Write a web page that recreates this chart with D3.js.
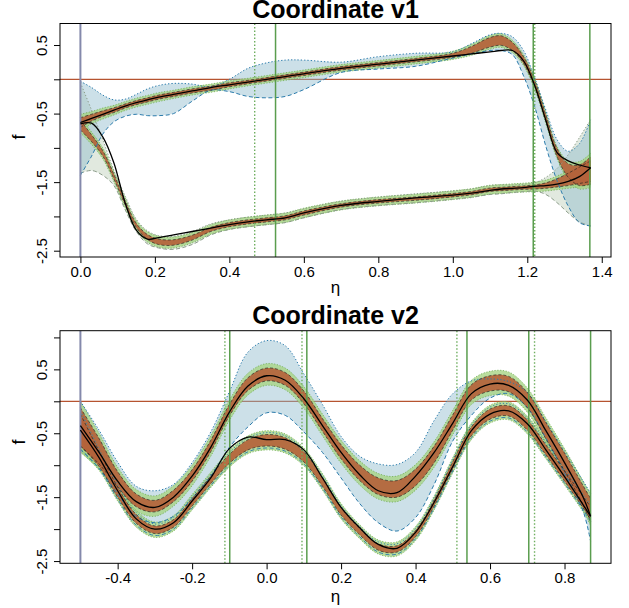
<!DOCTYPE html>
<html><head><meta charset="utf-8">
<script src="https://cdn.jsdelivr.net/npm/d3@7"></script>
<style>
body{margin:0;background:#fff}
svg{display:block}
text{font-family:"Liberation Sans",Arial,Helvetica,sans-serif;fill:#000}
</style>
</head><body>
<svg id="c" width="629" height="608"></svg>
<script>
// ---------------- Panel 1 : Coordinate v1 ----------------
const eta1 = [0, 0.03, 0.06, 0.09, 0.12, 0.15, 0.18, 0.21, 0.25, 0.3, 0.35, 0.4, 0.45, 0.5, 0.55, 0.6, 0.7, 0.8, 0.9, 1.0, 1.05, 1.1, 1.13, 1.16, 1.19, 1.22, 1.25, 1.28, 1.31, 1.34, 1.37];
const v1UpperMean = [-0.63, -0.56, -0.50, -0.45, -0.39, -0.34, -0.30, -0.26, -0.22, -0.17, -0.13, -0.08, -0.04, 0.00, 0.04, 0.08, 0.16, 0.22, 0.28, 0.35, 0.43, 0.54, 0.565, 0.48, 0.28, -0.07, -0.57, -1.07, -1.33, -1.40, -1.33];
const v1UpperOrangeHw = [0.07, 0.05, 0.04, 0.035, 0.03, 0.03, 0.03, 0.03, 0.03, 0.03, 0.03, 0.03, 0.025, 0.025, 0.025, 0.025, 0.025, 0.025, 0.025, 0.03, 0.05, 0.07, 0.07, 0.06, 0.05, 0.05, 0.05, 0.06, 0.10, 0.15, 0.20];
const v1UpperGreenHw = [0.12, 0.09, 0.08, 0.07, 0.065, 0.065, 0.065, 0.065, 0.06, 0.06, 0.06, 0.06, 0.055, 0.055, 0.055, 0.055, 0.055, 0.055, 0.055, 0.06, 0.08, 0.10, 0.10, 0.09, 0.08, 0.08, 0.08, 0.09, 0.14, 0.20, 0.25];
const v1UpperTruth = [-0.63, -0.57, -0.51, -0.45, -0.39, -0.34, -0.30, -0.26, -0.22, -0.17, -0.12, -0.08, -0.04, 0.00, 0.04, 0.08, 0.16, 0.22, 0.28, 0.34, 0.37, 0.40, 0.42, 0.42, 0.27, -0.09, -0.60, -1.07, -1.19, -1.25, -1.29];
const v1UpperWideUp = [-0.03, -0.12, -0.23, -0.30, -0.29, -0.22, -0.14, -0.09, -0.06, -0.07, -0.11, 0.00, 0.16, 0.24, 0.28, 0.28, 0.25, 0.33, 0.38, 0.40, 0.52, 0.65, 0.67, 0.62, 0.42, 0.02, -0.45, -0.88, -1.05, -0.94, -0.59];
const v1UpperWideLo = [-1.40, -1.12, -0.80, -0.62, -0.54, -0.51, -0.53, -0.53, -0.50, -0.32, -0.16, -0.18, -0.25, -0.27, -0.25, -0.15, 0.10, 0.15, 0.19, 0.31, 0.37, 0.42, 0.42, 0.36, 0.05, -0.40, -0.98, -1.48, -1.85, -2.09, -2.14];

const v1LowerMean = [-0.67, -0.86, -1.08, -1.42, -1.80, -2.13, -2.30, -2.37, -2.38, -2.31, -2.19, -2.12, -2.08, -2.05, -2.02, -1.95, -1.84, -1.78, -1.74, -1.69, -1.66, -1.61, -1.60, -1.59, -1.58, -1.57, -1.55, -1.51, -1.46, -1.40, -1.34];
const v1LowerOrangeHw = [0.07, 0.05, 0.04, 0.035, 0.03, 0.03, 0.035, 0.04, 0.04, 0.035, 0.03, 0.03, 0.03, 0.03, 0.03, 0.03, 0.025, 0.025, 0.025, 0.025, 0.025, 0.025, 0.025, 0.025, 0.025, 0.03, 0.04, 0.06, 0.09, 0.12, 0.15];
const v1LowerGreenHw = [0.11, 0.09, 0.08, 0.075, 0.07, 0.07, 0.075, 0.08, 0.08, 0.075, 0.07, 0.07, 0.07, 0.07, 0.07, 0.07, 0.065, 0.065, 0.065, 0.065, 0.065, 0.065, 0.065, 0.065, 0.065, 0.07, 0.08, 0.10, 0.13, 0.17, 0.20];
const v1LowerTruth = [-0.65, -0.64, -0.84, -1.22, -1.80, -2.20, -2.33, -2.31, -2.27, -2.22, -2.17, -2.12, -2.08, -2.05, -2.02, -1.95, -1.84, -1.78, -1.73, -1.69, -1.66, -1.62, -1.60, -1.59, -1.58, -1.56, -1.55, -1.53, -1.49, -1.42, -1.29];
const v1LowerWideUp = [-0.05, -0.45, -0.88, -1.33, -1.70, -2.04, -2.21, -2.28, -2.29, -2.22, -2.11, -2.05, -2.01, -1.98, -1.95, -1.89, -1.78, -1.72, -1.67, -1.63, -1.60, -1.55, -1.54, -1.54, -1.53, -1.51, -1.43, -1.30, -1.10, -0.85, -0.59];
const v1LowerWideLo = [-1.37, -1.33, -1.40, -1.55, -1.90, -2.22, -2.40, -2.46, -2.48, -2.41, -2.27, -2.19, -2.15, -2.12, -2.09, -2.02, -1.90, -1.84, -1.80, -1.75, -1.72, -1.68, -1.67, -1.65, -1.64, -1.63, -1.68, -1.80, -1.95, -2.08, -2.14];

const v1XTicks = [0, 0.2, 0.4, 0.6, 0.8, 1.0, 1.2, 1.4];
const v1YTicks = [0.5, 0, -0.5, -1, -1.5, -2, -2.5];
const v1YLabels = [0.5, -0.5, -1.5, -2.5];
const v1Purple = [0];
const v1GreenSolid = [0.524, 1.216, 1.368];
const v1GreenDotted = [0.468, 1.220];

// ---------------- Panel 2 : Coordinate v2 ----------------
const eta2 = [-0.5, -0.45, -0.4, -0.35, -0.3, -0.25, -0.2, -0.15, -0.1, -0.05, 0, 0.05, 0.1, 0.15, 0.2, 0.25, 0.3, 0.35, 0.4, 0.45, 0.5, 0.55, 0.6, 0.65, 0.7, 0.75, 0.8, 0.85, 0.87];
const v2UpperMean = [-0.40, -0.78, -1.22, -1.55, -1.64, -1.48, -1.16, -0.70, -0.14, 0.27, 0.42, 0.35, 0.06, -0.37, -0.79, -1.12, -1.33, -1.37, -1.19, -0.83, -0.33, 0.14, 0.28, 0.27, 0.02, -0.46, -0.95, -1.47, -1.70];
const v2UpperOrangeHw = [0.30, 0.20, 0.12, 0.10, 0.09, 0.09, 0.09, 0.09, 0.09, 0.10, 0.10, 0.10, 0.10, 0.10, 0.11, 0.12, 0.13, 0.13, 0.13, 0.13, 0.12, 0.12, 0.12, 0.12, 0.12, 0.13, 0.14, 0.15, 0.18];
const v2UpperGreenHw = [0.40, 0.28, 0.19, 0.17, 0.16, 0.16, 0.16, 0.16, 0.16, 0.17, 0.17, 0.17, 0.17, 0.17, 0.18, 0.19, 0.20, 0.20, 0.20, 0.20, 0.19, 0.19, 0.19, 0.19, 0.19, 0.20, 0.21, 0.22, 0.25];
const v2UpperTruth = [-0.38, -0.80, -1.25, -1.57, -1.66, -1.50, -1.17, -0.72, -0.17, 0.24, 0.40, 0.33, 0.04, -0.38, -0.80, -1.15, -1.40, -1.43, -1.17, -0.80, -0.34, 0.12, 0.27, 0.25, 0.02, -0.46, -0.96, -1.50, -1.80];
const v2UpperWideUp = [0.0, -0.45, -0.95, -1.33, -1.40, -1.30, -0.96, -0.48, 0.15, 0.77, 0.95, 0.87, 0.43, -0.05, -0.55, -0.86, -0.98, -0.99, -0.80, -0.30, 0.12, 0.32, 0.35, 0.31, 0.14, -0.32, -0.78, -1.25, -1.44];
const v2UpperWideLo = [-0.75, -1.05, -1.45, -1.80, -1.90, -1.80, -1.52, -1.17, -0.72, -0.40, -0.18, -0.22, -0.48, -0.80, -1.20, -1.60, -1.90, -2.03, -1.82, -1.30, -0.62, -0.22, 0.05, 0.12, -0.10, -0.58, -1.12, -1.72, -2.19];

const v2LowerMean = [-0.45, -0.90, -1.42, -1.84, -2.01, -1.91, -1.58, -1.23, -0.90, -0.68, -0.61, -0.66, -0.87, -1.26, -1.72, -2.04, -2.28, -2.31, -2.07, -1.59, -1.00, -0.47, -0.20, -0.15, -0.37, -0.76, -1.17, -1.58, -1.75];
const v2LowerOrangeHw = [0.25, 0.12, 0.08, 0.07, 0.06, 0.06, 0.06, 0.06, 0.07, 0.08, 0.09, 0.09, 0.08, 0.07, 0.06, 0.05, 0.05, 0.05, 0.05, 0.05, 0.06, 0.07, 0.08, 0.08, 0.08, 0.08, 0.08, 0.09, 0.10];
const v2LowerGreenHw = [0.33, 0.18, 0.14, 0.13, 0.12, 0.12, 0.12, 0.12, 0.13, 0.14, 0.15, 0.15, 0.14, 0.13, 0.12, 0.11, 0.11, 0.11, 0.11, 0.11, 0.12, 0.13, 0.14, 0.14, 0.14, 0.14, 0.14, 0.15, 0.16];
const v2LowerWideHw = [0.30, 0.15, 0.11, 0.10, 0.09, 0.09, 0.09, 0.09, 0.10, 0.11, 0.12, 0.12, 0.11, 0.10, 0.09, 0.08, 0.08, 0.08, 0.08, 0.08, 0.09, 0.10, 0.11, 0.11, 0.11, 0.11, 0.11, 0.12, 0.13];
const v2LowerTruth = [-0.45, -0.88, -1.40, -1.84, -2.00, -1.90, -1.56, -1.20, -0.74, -0.56, -0.60, -0.60, -0.76, -1.20, -1.66, -1.98, -2.24, -2.30, -2.05, -1.58, -1.02, -0.46, -0.20, -0.15, -0.35, -0.76, -1.18, -1.62, -1.80];

const v2XTicks = [-0.4, -0.2, 0, 0.2, 0.4, 0.6, 0.8];
const v2YTicks = [1, 0.5, 0, -0.5, -1, -1.5, -2, -2.5];
const v2YLabels = [0.5, -0.5, -1.5, -2.5];
const v2Purple = [-0.5];
const v2GreenSolid = [-0.099, 0.108, 0.538, 0.704, 0.870];
const v2GreenDotted = [-0.112, 0.095, 0.511, 0.7195];

// ---------------- drawing ----------------
const svg = d3.select("#c");
const defs = svg.append("defs");
const plus = (a, b, s) => a.map((v, i) => v + s * b[i]);

function drawPanel(p) {
  const x = d3.scaleLinear().domain(p.xDomain).range([p.left, p.right]);
  const y = d3.scaleLinear().domain(p.yDomain).range([p.bottom, p.top]);
  defs.append("clipPath").attr("id", "clip" + p.id)
    .append("rect").attr("x", p.left).attr("y", p.top)
    .attr("width", p.right - p.left).attr("height", p.bottom - p.top);
  const g = svg.append("g");
  const plot = g.append("g").attr("clip-path", `url(#clip${p.id})`);
  const curve = d3.curveCatmullRom.alpha(0.5);
  const area = (lo, hi) => d3.area().x((d, i) => x(p.eta[i])).y0((d, i) => y(lo[i])).y1((d, i) => y(hi[i])).curve(curve)(p.eta);
  const line = (vals) => d3.line().x((d, i) => x(p.eta[i])).y((d, i) => y(vals[i])).curve(curve)(p.eta);

  // zero reference line
  plot.append("line").attr("x1", p.left).attr("x2", p.right)
    .attr("y1", y(0)).attr("y2", y(0)).attr("stroke", "#b65330").attr("stroke-width", 1.2);

  // wide bands
  p.branches.forEach(b => {
    plot.append("path").attr("d", area(b.wideLo, b.wideUp))
      .attr("fill", b.wideFill).attr("fill-opacity", b.wideOpacity).attr("stroke", "none");
  });
  // green bands
  p.branches.forEach(b => {
    plot.append("path").attr("d", area(plus(b.mean, b.green, -1), plus(b.mean, b.green, 1)))
      .attr("fill", "#a8d584").attr("fill-opacity", 0.8);
    [-1, 1].forEach(s => plot.append("path").attr("d", line(plus(b.mean, b.green, s)))
      .attr("fill", "none").attr("stroke", "#6fae55").attr("stroke-width", 0.9)
      .attr("stroke-dasharray", "1.2,1.6").attr("opacity", 0.9));
  });
  // orange bands
  p.branches.forEach(b => {
    plot.append("path").attr("d", area(plus(b.mean, b.orange, -1), plus(b.mean, b.orange, 1)))
      .attr("fill", "#b4633b").attr("fill-opacity", 0.92);
  });
  // wide band borders
  p.branches.forEach(b => {
    if (!b.wideBorder) return;
    plot.append("path").attr("d", line(b.wideUp)).attr("fill", "none")
      .attr("stroke", b.wideStroke).attr("stroke-width", 1).attr("stroke-dasharray", "1.3,2");
    plot.append("path").attr("d", line(b.wideLo)).attr("fill", "none")
      .attr("stroke", b.wideStroke).attr("stroke-width", 1).attr("stroke-dasharray", "4,2.5");
  });
  // orange borders
  p.branches.forEach(b => {
    [-1, 1].forEach(s => plot.append("path").attr("d", line(plus(b.mean, b.orange, s)))
      .attr("fill", "none").attr("stroke", "#222").attr("stroke-width", 0.8)
      .attr("stroke-dasharray", "3,2").attr("opacity", 0.8));
  });
  // vertical lines
  p.purple.forEach(v => plot.append("line").attr("x1", x(v)).attr("x2", x(v))
    .attr("y1", p.top).attr("y2", p.bottom).attr("stroke", "#8489ab").attr("stroke-width", 2));
  p.greenDotted.forEach(v => plot.append("line").attr("x1", x(v)).attr("x2", x(v))
    .attr("y1", p.top).attr("y2", p.bottom).attr("stroke", "#6fae5f").attr("stroke-width", 1.4)
    .attr("stroke-dasharray", "1.5,2"));
  p.greenSolid.forEach(v => plot.append("line").attr("x1", x(v)).attr("x2", x(v))
    .attr("y1", p.top).attr("y2", p.bottom).attr("stroke", "#5a9d4e").attr("stroke-width", 1.5));
  // truth
  p.branches.forEach(b => {
    plot.append("path").attr("d", line(b.truth)).attr("fill", "none")
      .attr("stroke", "#000").attr("stroke-width", 1.3);
  });

  // axes
  const xa = g.append("g").attr("transform", `translate(0,${p.bottom})`)
    .call(d3.axisBottom(x).tickValues(p.xTicks).tickSize(6).tickFormat(d => d.toFixed(1)));
  xa.select(".domain").remove();
  xa.selectAll("line").attr("stroke", "#000");
  xa.selectAll("text").attr("font-size", 15).attr("font-family", "Liberation Sans, Arial, sans-serif");

  const ya = g.append("g").attr("transform", `translate(${p.left},0)`)
    .call(d3.axisLeft(y).tickValues(p.yTicks).tickSize(6)
      .tickFormat(d => p.yLabels.includes(d) ? d.toFixed(1) : ""));
  ya.select(".domain").remove();
  ya.selectAll("line").attr("stroke", "#000");
  ya.selectAll("text").attr("font-size", 15).attr("font-family", "Liberation Sans, Arial, sans-serif")
    .attr("transform", "rotate(-90)").attr("text-anchor", "middle")
    .attr("x", 0).attr("y", -13).attr("dy", 0);

  // box
  g.append("rect").attr("x", p.left).attr("y", p.top).attr("width", p.right - p.left)
    .attr("height", p.bottom - p.top).attr("fill", "none").attr("stroke", "#000").attr("stroke-width", 1);

  // title and labels
  g.append("text").attr("x", (p.left + p.right) / 2).attr("y", p.titleY)
    .attr("text-anchor", "middle").attr("font-size", 25).attr("font-weight", "bold").text(p.title);
  g.append("text").attr("x", (p.left + p.right) / 2).attr("y", p.xlabY)
    .attr("text-anchor", "middle").attr("font-size", 17).text("η");
  g.append("text").attr("transform", `translate(25,${p.ylabY}) rotate(-90)`)
    .attr("text-anchor", "middle").attr("font-size", 18).text("f");
}

drawPanel({
  id: 1, title: "Coordinate v1", titleY: 18, xlabY: 293, ylabY: 137,
  left: 60, right: 611, top: 23.5, bottom: 257,
  xDomain: [-0.0548, 1.4248], yDomain: [-2.592, 0.814],
  eta: eta1, xTicks: v1XTicks, yTicks: v1YTicks, yLabels: v1YLabels,
  purple: v1Purple, greenSolid: v1GreenSolid, greenDotted: v1GreenDotted,
  branches: [
    { mean: v1LowerMean, orange: v1LowerOrangeHw, green: v1LowerGreenHw, truth: v1LowerTruth,
      wideUp: v1LowerWideUp, wideLo: v1LowerWideLo, wideFill: "#bccfb8", wideOpacity: 0.45,
      wideStroke: "#8c9c8a", wideBorder: true },
    { mean: v1UpperMean, orange: v1UpperOrangeHw, green: v1UpperGreenHw, truth: v1UpperTruth,
      wideUp: v1UpperWideUp, wideLo: v1UpperWideLo, wideFill: "#8dbacd", wideOpacity: 0.45,
      wideStroke: "#2b7bab", wideBorder: true }
  ]
});

drawPanel({
  id: 2, title: "Coordinate v2", titleY: 324, xlabY: 602, ylabY: 442,
  left: 60, right: 611, top: 330.7, bottom: 563.3,
  xDomain: [-0.5548, 0.9248], yDomain: [-2.535, 1.105],
  eta: eta2, xTicks: v2XTicks, yTicks: v2YTicks, yLabels: v2YLabels,
  purple: v2Purple, greenSolid: v2GreenSolid, greenDotted: v2GreenDotted,
  branches: [
    { mean: v2UpperMean, orange: v2UpperOrangeHw, green: v2UpperGreenHw, truth: v2UpperTruth,
      wideUp: v2UpperWideUp, wideLo: v2UpperWideLo, wideFill: "#8dbacd", wideOpacity: 0.45,
      wideStroke: "#2b7bab", wideBorder: true },
    { mean: v2LowerMean, orange: v2LowerOrangeHw, green: v2LowerGreenHw, truth: v2LowerTruth,
      wideUp: plus(v2LowerMean, v2LowerWideHw, 1), wideLo: plus(v2LowerMean, v2LowerWideHw, -1),
      wideFill: "#8dbacd", wideOpacity: 0.0, wideStroke: "#3a86a8", wideBorder: true }
  ]
});
</script>
</body></html>
